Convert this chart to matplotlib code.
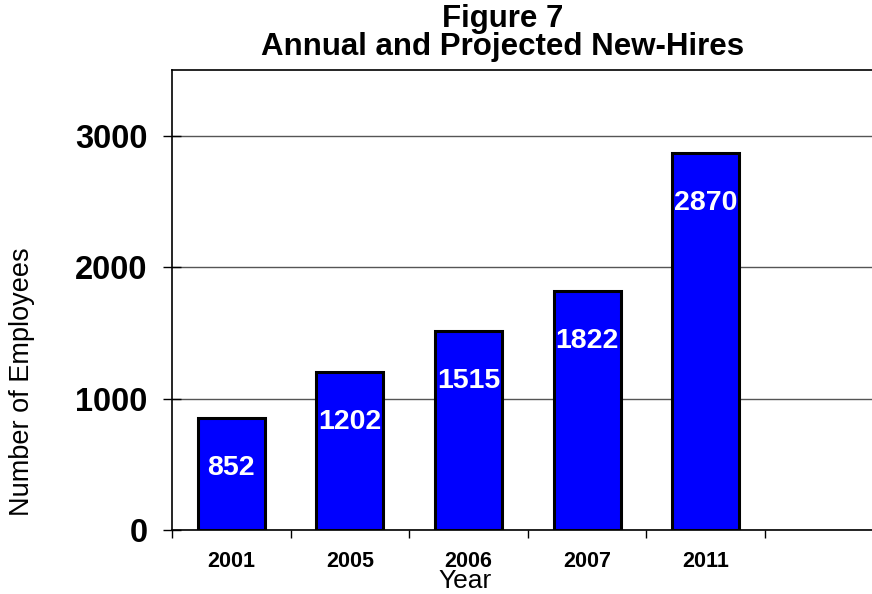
import matplotlib
matplotlib.use("Agg")
import matplotlib.pyplot as plt

plt.rcParams["font.family"] = ["Liberation Sans", "DejaVu Sans"]

years = ["2001", "2005", "2006", "2007", "2011"]
new_hires = [852, 1202, 1515, 1822, 2870]
y_ticks = [0, 1000, 2000, 3000]

fig = plt.figure(figsize=(8.72, 5.94), dpi=100)
W, H = 872, 594

# six category slots, the last one left empty; axes run past the right edge
ax = fig.add_axes([172 / W, 64 / H, 711.6 / W, 460 / H])

pos = list(range(len(years)))
ax.bar(pos, new_hires, width=0.565, color="#0000FF", edgecolor="black",
       linewidth=2.2, zorder=3)

for x, v in zip(pos, new_hires):
    ax.annotate(str(v), (x, v), xytext=(0, -36), textcoords="offset points",
                ha="center", va="center", color="white", fontsize=20.5,
                fontweight="bold", zorder=4)

ax.set_xlim(-0.5, 5.5)
ax.set_ylim(0, 3500)

ax.set_yticks(y_ticks)
ax.set_yticklabels([str(t) for t in y_ticks], fontsize=23.5, fontweight="bold")
ax.tick_params(axis="y", direction="inout", length=13, width=1, pad=11)

# tick marks between categories, labels at the category centres
ax.set_xticks([i - 0.5 for i in range(6)])
ax.set_xticklabels([])
ax.tick_params(axis="x", which="major", direction="out", length=6, width=1)
ax.set_xticks(pos, minor=True)
ax.set_xticklabels(years, minor=True, fontsize=15.5, fontweight="bold")
ax.tick_params(axis="x", which="minor", length=0, pad=15)

ax.grid(axis="y", color="#555555", linewidth=1, zorder=0)
ax.set_axisbelow(True)
for side in ["left", "bottom", "top", "right"]:
    ax.spines[side].set_linewidth(1.2)

fig.text(503 / W, 1 - 33 / H, "Figure 7\nAnnual and Projected New-Hires",
         ha="center", va="center", multialignment="center", linespacing=0.95,
         fontsize=22.5, fontweight="bold")
fig.text(465 / W, 6 / H, "Year", ha="center", va="baseline", fontsize=19)
fig.text(22 / W, 1 - 382 / H, "Number of Employees", ha="center", va="center",
         rotation=90, fontsize=19.5)

fig.savefig("out.png", dpi=100)
